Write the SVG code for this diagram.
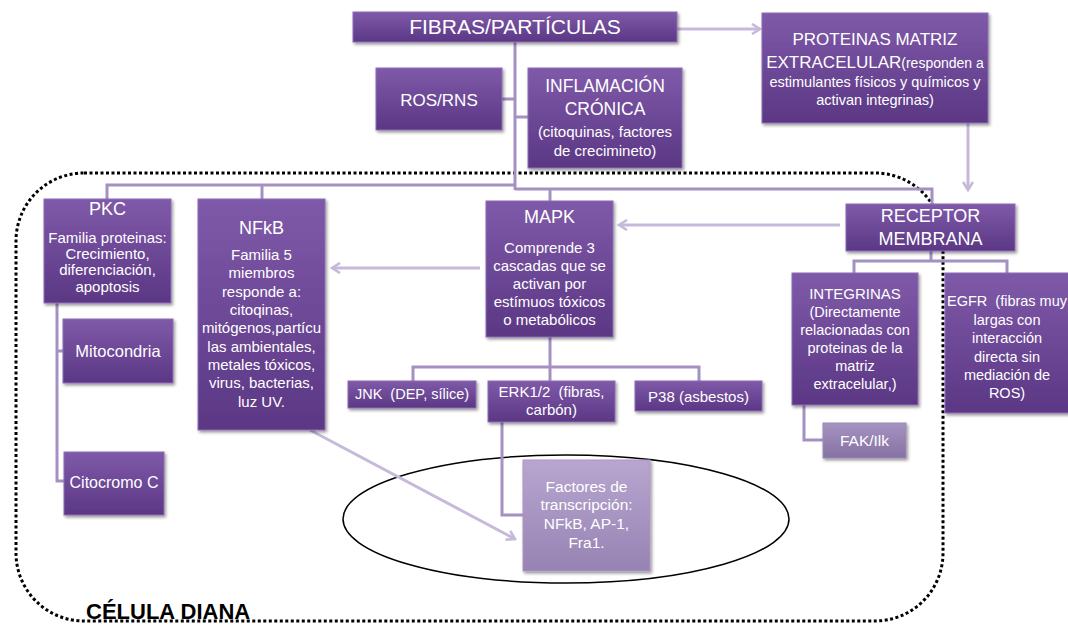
<svg xmlns="http://www.w3.org/2000/svg" width="1068" height="627" viewBox="0 0 1068 627">
<defs>
<linearGradient id="gDark" x1="0" y1="0" x2="0" y2="1">
<stop offset="0" stop-color="#7f5aa9"/>
<stop offset="1" stop-color="#5b3784"/>
</linearGradient>
<linearGradient id="gLight" x1="0" y1="0" x2="0" y2="1">
<stop offset="0" stop-color="#a593c0"/>
<stop offset="1" stop-color="#8572a3"/>
</linearGradient>
<linearGradient id="gPale" x1="0" y1="0" x2="0" y2="1">
<stop offset="0" stop-color="#b8a6d0"/>
<stop offset="1" stop-color="#9683b3"/>
</linearGradient>
<filter id="sh" x="-10%" y="-10%" width="125%" height="130%">
<feDropShadow dx="1.5" dy="2" stdDeviation="1.5" flood-color="#000" flood-opacity="0.4"/>
</filter>
<marker id="arr" viewBox="0 0 12 12" refX="10" refY="6" markerWidth="12" markerHeight="12" markerUnits="userSpaceOnUse" orient="auto">
<path d="M2,1 L10,6 L2,11" fill="none" stroke="#c7b9da" stroke-width="2.6"/>
</marker>
</defs>
<style>
.box{fill:url(#gDark);stroke:#8c6db6;stroke-width:1;filter:url(#sh)}
.light{fill:url(#gLight);stroke:#9b89b6;stroke-width:1;filter:url(#sh)}
.pale{fill:url(#gPale);stroke:#a996c2;stroke-width:1;filter:url(#sh)}
.t{font-family:"Liberation Sans",Arial,sans-serif;fill:#fff;text-anchor:middle}
.tree{fill:none;stroke:#a590c2;stroke-width:3}
.arrow{fill:none;stroke:#c7b9da;stroke-width:3;marker-end:url(#arr)}
</style>

<g id="cell-boundary">
<rect x="16" y="173" width="927" height="448" rx="68" ry="68" fill="none" stroke="#000" stroke-width="3" stroke-dasharray="3 2.5"/>
<text x="86" y="619" font-family="'Liberation Sans',Arial,sans-serif" font-weight="bold" font-size="22" fill="#000">CÉLULA DIANA</text>
</g>

<g id="ellipse">
<ellipse cx="566" cy="519" rx="223" ry="64" fill="none" stroke="#000" stroke-width="1.5"/>
</g>

<g id="connectors">
<path class="tree" d="M515,42 V190"/>
<path class="tree" d="M502,99 H515"/>
<path class="tree" d="M515,117 H528"/>
<path class="tree" d="M515,185 H107 V199"/>
<path class="tree" d="M262,185 V199"/>
<path class="tree" d="M515,189 H932 V204"/>
<path class="tree" d="M550,189 V201"/>
<path class="tree" d="M57,303 V481 H64"/>
<path class="tree" d="M57,351 H63"/>
<path class="tree" d="M550,337 V367"/>
<path class="tree" d="M413,381 V367 H699 V381"/>
<path class="tree" d="M550,367 V381"/>
<path class="tree" d="M502,422 V515 H523"/>
<path class="tree" d="M931,251 V261"/>
<path class="tree" d="M854,273 V261 H1007 V273"/>
<path class="tree" d="M804,405 V440 H823"/>
<path class="arrow" d="M677,29 H760"/>
<path class="arrow" d="M968,123 V190"/>
<path class="arrow" d="M840,225 H619"/>
<path class="arrow" d="M480,268 H332"/>
<path class="arrow" d="M310,430 L515,539"/>
</g>

<g id="fibras">
<rect class="box" x="353" y="12" width="324" height="30"/>
<text class="t" x="515" y="34" font-size="21">FIBRAS/PARTÍCULAS</text>
</g>

<g id="proteinas">
<rect class="box" x="762" y="13" width="226" height="110"/>
<text class="t" x="875" y="45" font-size="17">PROTEINAS MATRIZ</text>
<text class="t" x="875" y="68" font-size="17">EXTRACELULAR<tspan font-size="14">(responden a</tspan></text>
<text class="t" x="875" y="87" font-size="14.5">estimulantes físicos y químicos y</text>
<text class="t" x="875" y="105" font-size="14.5">activan integrinas)</text>
</g>

<g id="ros">
<rect class="box" x="376" y="68" width="126" height="62"/>
<text class="t" x="439" y="106" font-size="17">ROS/RNS</text>
</g>

<g id="inflamacion">
<rect class="box" x="528" y="68" width="154" height="100"/>
<text class="t" x="605" y="92" font-size="17.5">INFLAMACIÓN</text>
<text class="t" x="605" y="115" font-size="17.5">CRÓNICA</text>
<text class="t" x="605" y="137" font-size="15">(citoquinas, factores</text>
<text class="t" x="605" y="156" font-size="15">de crecimineto)</text>
</g>

<g id="pkc">
<rect class="box" x="44" y="199" width="127" height="104"/>
<text class="t" x="107.5" y="215" font-size="18">PKC</text>
<text class="t" x="107.5" y="243" font-size="15">Familia proteinas:</text>
<text class="t" x="107.5" y="259" font-size="15">Crecimiento,</text>
<text class="t" x="107.5" y="275" font-size="15">diferenciación,</text>
<text class="t" x="107.5" y="292" font-size="15">apoptosis</text>
</g>

<g id="mitocondria">
<rect class="box" x="63" y="319" width="110" height="64"/>
<text class="t" x="118" y="357" font-size="16.5">Mitocondria</text>
</g>

<g id="citocromo">
<rect class="box" x="64" y="452" width="100" height="63"/>
<text class="t" x="114" y="488" font-size="16">Citocromo C</text>
</g>

<g id="nfkb">
<rect class="box" x="198" y="199" width="127" height="231"/>
<text class="t" x="261.5" y="234" font-size="18">NFkB</text>
<text class="t" x="261.5" y="260" font-size="15">Familia 5</text>
<text class="t" x="261.5" y="278.3" font-size="15">miembros</text>
<text class="t" x="261.5" y="296.6" font-size="15">responde a:</text>
<text class="t" x="261.5" y="315" font-size="15">citoqinas,</text>
<text class="t" x="261.5" y="333.3" font-size="15">mitógenos,partícu</text>
<text class="t" x="261.5" y="351.6" font-size="15">las ambientales,</text>
<text class="t" x="261.5" y="370" font-size="15">metales tóxicos,</text>
<text class="t" x="261.5" y="388.3" font-size="15">virus, bacterias,</text>
<text class="t" x="261.5" y="406.6" font-size="15">luz UV.</text>
</g>

<g id="mapk">
<rect class="box" x="486" y="201" width="127" height="136"/>
<text class="t" x="549.5" y="223" font-size="18">MAPK</text>
<text class="t" x="549.5" y="253" font-size="15">Comprende 3</text>
<text class="t" x="549.5" y="271" font-size="15">cascadas que se</text>
<text class="t" x="549.5" y="289" font-size="15">activan por</text>
<text class="t" x="549.5" y="307" font-size="15">estímuos tóxicos</text>
<text class="t" x="549.5" y="325" font-size="15">o metabólicos</text>
</g>

<g id="jnk">
<rect class="box" x="348" y="381" width="128" height="27"/>
<text class="t" x="412" y="399" font-size="14.5">JNK&#160; (DEP, sílice)</text>
</g>

<g id="erk">
<rect class="box" x="488" y="381" width="127" height="41"/>
<text class="t" x="551.5" y="397" font-size="15">ERK1/2&#160; (fibras,</text>
<text class="t" x="551.5" y="415" font-size="15">carbón)</text>
</g>

<g id="p38">
<rect class="box" x="635" y="381" width="127" height="30"/>
<text class="t" x="698.5" y="402" font-size="15">P38 (asbestos)</text>
</g>

<g id="receptor">
<rect class="box" x="846" y="204" width="169" height="47"/>
<text class="t" x="930.5" y="222" font-size="18">RECEPTOR</text>
<text class="t" x="930.5" y="245" font-size="18">MEMBRANA</text>
</g>

<g id="integrinas">
<rect class="box" x="792" y="273" width="126" height="132"/>
<text class="t" x="855" y="299" font-size="15">INTEGRINAS</text>
<text class="t" x="855" y="317" font-size="14.5">(Directamente</text>
<text class="t" x="855" y="335" font-size="14.5">relacionadas con</text>
<text class="t" x="855" y="353" font-size="14.5">proteinas de la</text>
<text class="t" x="855" y="371" font-size="14.5">matriz</text>
<text class="t" x="855" y="389" font-size="14.5">extracelular,)</text>
</g>

<g id="egfr">
<rect class="box" x="945" y="273" width="130" height="140"/>
<text class="t" x="1007" y="306" font-size="14.5">EGFR&#160; (fibras muy</text>
<text class="t" x="1007" y="325" font-size="14.5">largas con</text>
<text class="t" x="1007" y="343" font-size="14.5">interacción</text>
<text class="t" x="1007" y="362" font-size="14.5">directa sin</text>
<text class="t" x="1007" y="380" font-size="14.5">mediación de</text>
<text class="t" x="1007" y="398" font-size="14.5">ROS)</text>
</g>

<g id="fak">
<rect class="light" x="823" y="423" width="83" height="35"/>
<text class="t" x="864.5" y="446" font-size="15.5">FAK/Ilk</text>
</g>

<g id="factores">
<rect class="pale" x="523" y="460" width="127" height="111"/>
<text class="t" x="586.5" y="492" font-size="15.5">Factores de</text>
<text class="t" x="586.5" y="510" font-size="15.5">transcripción:</text>
<text class="t" x="586.5" y="529" font-size="15.5">NFkB, AP-1,</text>
<text class="t" x="586.5" y="548" font-size="15.5">Fra1.</text>
</g>
</svg>
